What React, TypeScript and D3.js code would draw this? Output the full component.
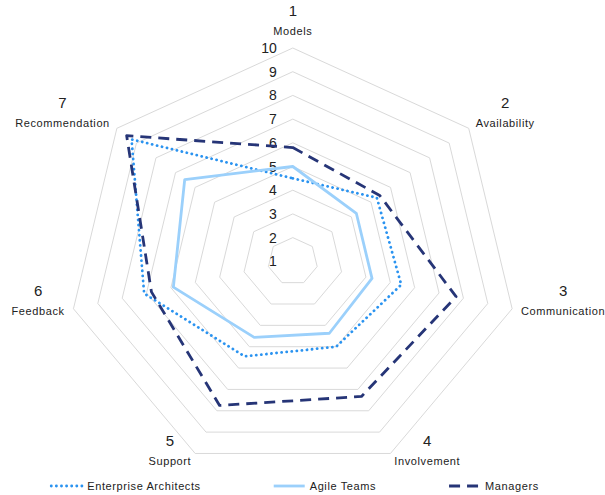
import React, { useEffect, useRef } from 'react';
import * as d3 from 'd3';

const axisNumbers = ['1', '2', '3', '4', '5', '6', '7'];
const axisNames = ['Models', 'Availability', 'Communication', 'Involvement', 'Support', 'Feedback', 'Recommendation'];
const levels = [1, 2, 3, 4, 5, 6, 7, 8, 9, 10];
const seriesNames = ['Enterprise Architects', 'Agile Teams', 'Managers'];
const architects = [4.5, 5.3, 5.45, 5.0, 5.45, 7.1, 9.25];
const agileTeams = [5.0, 4.25, 4.25, 4.37, 4.56, 5.9, 6.53];
const managers = [5.8, 5.45, 7.7, 7.33, 7.75, 6.8, 9.5];

const W = 605;
const H = 495;
const cx = 292.8;
const cy = 261.3;
const font = "'Liberation Sans', Arial, sans-serif";

function App() {
  const ref = useRef<SVGSVGElement>(null);

  useEffect(() => {
    const svg = d3.select(ref.current);
    svg.selectAll('*').remove();

    const rx = d3.scaleLinear().domain([1, 10]).range([0, 225]);
    const ry = d3.scaleLinear().domain([1, 10]).range([0, 213.3]);
    const angle = d3.scaleLinear().domain([0, axisNames.length]).range([0, 2 * Math.PI]);

    const pt = (i: number, v: number): [number, number] => [
      cx + rx(v) * Math.sin(angle(i)),
      cy - ry(v) * Math.cos(angle(i)),
    ];
    const line = d3.line().curve(d3.curveLinearClosed);

    // grid rings
    svg.append('g')
      .selectAll('path')
      .data(levels.slice(1))
      .enter()
      .append('path')
      .attr('d', (lv) => line(axisNames.map((_, i) => pt(i, lv))))
      .attr('fill', 'none')
      .attr('stroke', '#d9d9d9')
      .attr('stroke-width', 1);

    // level labels
    svg.append('g')
      .selectAll('text')
      .data(levels)
      .enter()
      .append('text')
      .attr('x', cx - 16)
      .attr('y', (lv) => cy - ry(lv) + 5)
      .attr('text-anchor', 'end')
      .style('font-family', font)
      .style('font-size', '14px')
      .style('fill', '#222')
      .text((lv) => lv);

    // series
    const series = [
      { values: architects, color: '#2a93f0', dash: '0.1 5', cap: 'round', width: 2.8 },
      { values: agileTeams, color: '#9bd0fb', dash: null, cap: 'butt', width: 2.8 },
      { values: managers, color: '#263577', dash: '11 7', cap: 'butt', width: 2.8 },
    ];
    series.forEach((s) => {
      svg.append('path')
        .attr('d', line(s.values.map((v, i) => pt(i, v))))
        .attr('fill', 'none')
        .attr('stroke', s.color)
        .attr('stroke-width', s.width)
        .attr('stroke-linecap', s.cap)
        .attr('stroke-linejoin', 'round')
        .attr('stroke-dasharray', s.dash);
    });

    // axis labels
    axisNames.forEach((name, i) => {
      const a = angle(i);
      const s = Math.sin(a);
      const [vx, vy] = pt(i, 10);
      const g = svg.append('g');
      const nameText = g.append('text')
        .style('font-family', font)
        .style('font-size', '11px')
        .style('letter-spacing', '0.6px')
        .style('fill', '#222')
        .text(name);
      const w = (nameText.node() as SVGTextElement).getComputedTextLength();
      let mx = vx;
      if (Math.abs(s) > 0.01) mx = vx + 9 * s + Math.sign(s) * w / 2;
      const my = vy - 8 * Math.cos(a) - (Math.abs(s) < 0.01 ? 9 : 0);
      nameText.attr('x', mx).attr('y', my + 4).attr('text-anchor', 'middle');
      g.append('text')
        .attr('x', mx)
        .attr('y', my - 20.5 + 5.5)
        .attr('text-anchor', 'middle')
        .style('font-family', font)
        .style('font-size', '15px')
        .style('fill', '#222')
        .text(axisNumbers[i]);
    });

    // legend
    const ly = 486;
    const legend = svg.append('g');
    const items = series.map((s, k) => {
      const g = legend.append('g');
      const t = g.append('text')
        .attr('x', 36)
        .attr('y', ly + 4)
        .style('font-family', font)
        .style('font-size', '11px')
        .style('letter-spacing', '0.6px')
        .style('fill', '#222')
        .text(seriesNames[k]);
      g.append('line')
        .attr('x1', 0).attr('x2', 31)
        .attr('y1', ly).attr('y2', ly)
        .attr('stroke', s.color)
        .attr('stroke-width', s.width)
        .attr('stroke-linecap', s.cap)
        .attr('stroke-dasharray', s.dash);
      return { g, w: 36 + (t.node() as SVGTextElement).getComputedTextLength() };
    });
    const gap = 73;
    const total = d3.sum(items, (d) => d.w) + gap * (items.length - 1);
    let x0 = 295 - total / 2;
    items.forEach((it) => {
      it.g.attr('transform', `translate(${x0},0)`);
      x0 += it.w + gap;
    });
  }, []);

  return (
    <svg
      ref={ref}
      width={W}
      height={H}
      style={{ position: 'absolute', left: 0, top: 0, background: '#fff' }}
    />
  );
}

export default App;
